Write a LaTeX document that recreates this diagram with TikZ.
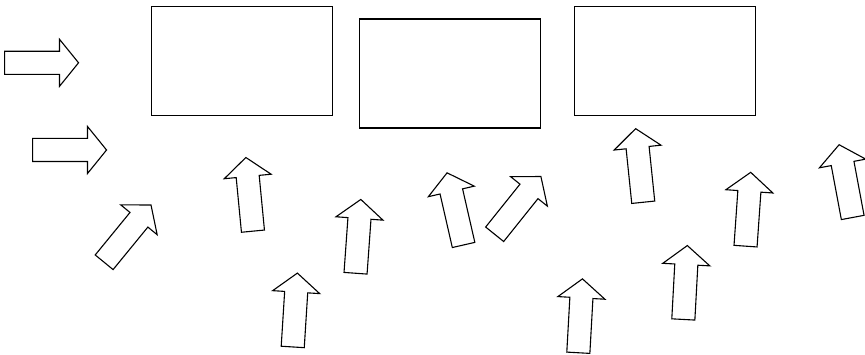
\documentclass[tikz,border=0pt]{standalone}
\usetikzlibrary{shapes.arrows}
\begin{document}
\begin{tikzpicture}[x=1pt, y=1pt,
    panel/.style={draw, line width=1.3pt, minimum width=181pt, minimum height=109pt, inner sep=0pt},
    push/.style={draw, line width=1.1pt, single arrow, single arrow head extend=12pt, single arrow tip angle=102, inner xsep=0pt, inner ysep=11pt, minimum height=74pt, anchor=tail}]
    \useasboundingbox (0,0) rectangle (865,-355);

    % the three boxes
    \node[panel] (boxA) at (242,-61.3) {};
    \node[panel] (boxB) at (450,-73.5) {};
    \node[panel] (boxC) at (665,-61.3) {};

    % arrows from the left
    \node[push] (inA) at (4,-62.8) {};
    \node[push] (inB) at (32,-150) {};

    % arrows from below
    \node[push, rotate=50.7] (upA) at (103.8,-262.7) {};
    \node[push, rotate=95.5] (upB) at (253,-231.7) {};
    \node[push, rotate=86.4] (upC) at (292.7,-347.5) {};
    \node[push, rotate=85.9] (upD) at (355.5,-273.8) {};
    \node[push, rotate=102.9] (upE) at (463.7,-245.5) {};
    \node[push, rotate=51.3] (upF) at (494.3,-234.7) {};
    \node[push, rotate=86.8] (upG) at (578.3,-353.3) {};
    \node[push, rotate=95.9] (upH) at (643.3,-202.8) {};
    \node[push, rotate=86.9] (upI) at (683.3,-320) {};
    \node[push, rotate=86] (upJ) at (745.5,-246.7) {};
    \node[push, rotate=100.6] (upK) at (852.8,-218) {};
\end{tikzpicture}
\end{document}
